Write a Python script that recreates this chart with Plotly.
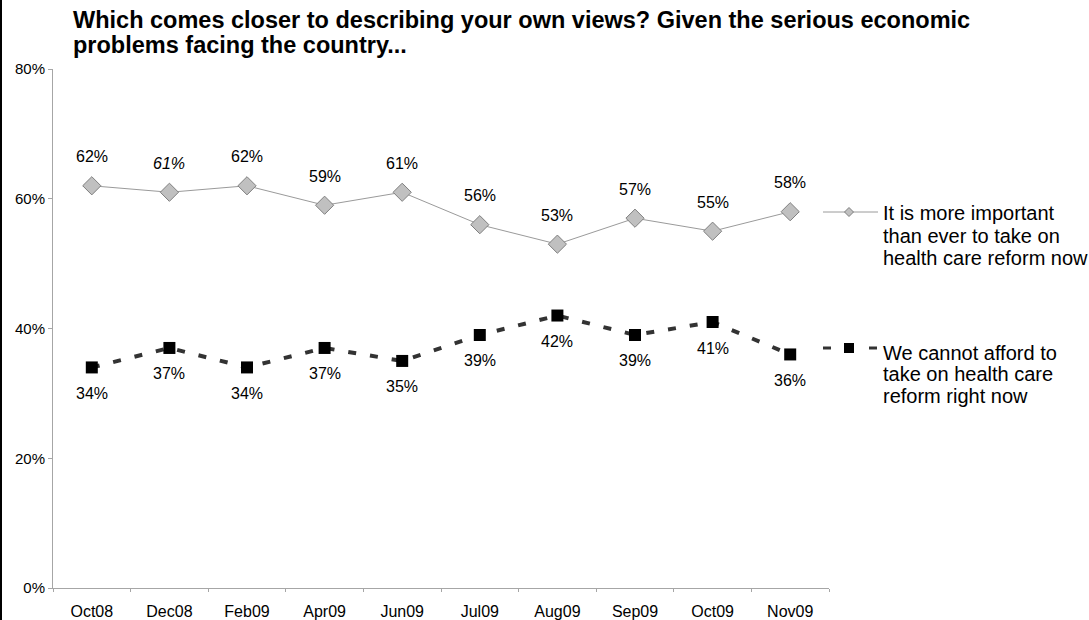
import plotly.graph_objects as go

# ---- data ----
categories = ["Oct08", "Dec08", "Feb09", "Apr09", "Jun09", "Jul09", "Aug09", "Sep09", "Oct09", "Nov09"]
important_now = [62, 61, 62, 59, 61, 56, 53, 57, 55, 58]
cannot_afford = [34, 37, 34, 37, 35, 39, 42, 39, 41, 36]
important_italic = [False, True, False, False, False, False, False, False, False, False]
y_ticks = [0, 20, 40, 60, 80]
series1_name = ["It is more important", "than ever to take on", "health care reform now"]
series2_name = ["We cannot afford to", "take on health care", "reform right now"]
title_lines = ["Which comes closer to describing your own views? Given the serious economic",
               "problems facing the country..."]

FONT = "Liberation Sans, Arial, sans-serif"
W, H = 1089, 620
ML, MR, MT, MB = 53, 260, 69, 32
PW, PH = W - ML - MR, H - MT - MB


def px(xp):
    return (xp - ML) / PW


def py(yp):
    return (H - MB - yp) / PH


fig = go.Figure()
fig.add_trace(go.Scatter(
    x=categories, y=important_now, mode="lines+markers", name=" ".join(series1_name),
    line=dict(color="#9a9a9a", width=1),
    marker=dict(symbol="diamond", size=14, color="#c0c0c0", line=dict(color="#7f7f7f", width=1)),
    showlegend=False, cliponaxis=False,
))
fig.add_trace(go.Scatter(
    x=categories, y=cannot_afford, mode="lines+markers", name=" ".join(series2_name),
    line=dict(color="#333333", width=4, dash="8px,14px"),
    marker=dict(symbol="square", size=12, color="#000000"),
    showlegend=False, cliponaxis=False,
))

annotations = []
for c, v, it in zip(categories, important_now, important_italic):
    t = f"{v}%"
    if it:
        t = f"<i>{t}</i>"
    annotations.append(dict(x=c, y=v, text=t, showarrow=False, yshift=29,
                            font=dict(size=16, color="#000", family=FONT)))
for c, v in zip(categories, cannot_afford):
    annotations.append(dict(x=c, y=v, text=f"{v}%", showarrow=False, yshift=-26,
                            font=dict(size=16, color="#000", family=FONT)))

# title (one annotation per line)
for i, line in enumerate(title_lines):
    annotations.append(dict(xref="paper", yref="paper", x=px(71), y=py(20 + 25.5 * i),
                            xanchor="left", yanchor="middle", text=f"<b>{line}</b>",
                            showarrow=False, font=dict(size=23.5, color="#000", family=FONT)))

# legend text (one annotation per line)
for i, line in enumerate(series1_name):
    annotations.append(dict(xref="paper", yref="paper", x=px(881), y=py(213 + 22.5 * i),
                            xanchor="left", yanchor="middle", text=line, showarrow=False,
                            font=dict(size=20, color="#000", family=FONT)))
for i, line in enumerate(series2_name):
    annotations.append(dict(xref="paper", yref="paper", x=px(881), y=py(353 + 21.5 * i),
                            xanchor="left", yanchor="middle", text=line, showarrow=False,
                            font=dict(size=20, color="#000", family=FONT)))

shapes = [
    # left frame line
    dict(type="line", xref="paper", yref="paper", x0=px(1), x1=px(1), y0=py(0), y1=py(H),
         line=dict(color="#000", width=2)),
    # legend sample 1
    dict(type="line", xref="paper", yref="paper", x0=px(823), x1=px(878), y0=py(212), y1=py(212),
         line=dict(color="#9a9a9a", width=1)),
    dict(type="path", xref="paper", yref="paper",
         path=f"M {px(844.5)},{py(212)} L {px(849)},{py(207.5)} L {px(853.5)},{py(212)} L {px(849)},{py(216.5)} Z",
         fillcolor="#c0c0c0", line=dict(color="#7f7f7f", width=1)),
    # legend sample 2
    dict(type="line", xref="paper", yref="paper", x0=px(823), x1=px(831), y0=py(348), y1=py(348),
         line=dict(color="#333333", width=3)),
    dict(type="line", xref="paper", yref="paper", x0=px(869), x1=px(877), y0=py(348), y1=py(348),
         line=dict(color="#333333", width=3)),
    dict(type="rect", xref="paper", yref="paper", x0=px(844), x1=px(854), y0=py(343), y1=py(353),
         fillcolor="#000", line=dict(color="#000", width=0)),
]

fig.update_layout(
    width=W, height=H,
    margin=dict(l=ML, r=MR, t=MT, b=MB, pad=0, autoexpand=False),
    paper_bgcolor="#ffffff", plot_bgcolor="#ffffff",
    font=dict(family=FONT, size=16, color="#000"),
    xaxis=dict(type="category", range=[-0.5, len(categories) - 0.5], showgrid=False,
               showline=True, linecolor="#a6a6a6", linewidth=1, ticks="outside",
               tickson="boundaries", ticklen=3, tickcolor="#a6a6a6", automargin=False,
               tickfont=dict(size=16, color="#000"), ticklabelstandoff=9, zeroline=False),
    yaxis=dict(range=[0, 80], tickvals=y_ticks, ticktext=[f"{v}%" for v in y_ticks],
               showgrid=False, showline=True, linecolor="#a6a6a6", linewidth=1,
               ticks="outside", ticklen=4, tickcolor="#a6a6a6", automargin=False,
               tickfont=dict(size=15, color="#000"), zeroline=False),
    annotations=annotations, shapes=shapes, showlegend=False,
)

fig.write_html("out.html")
